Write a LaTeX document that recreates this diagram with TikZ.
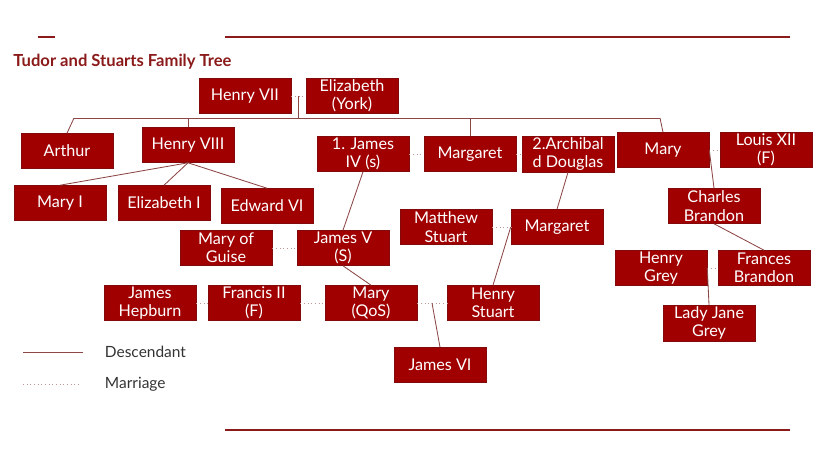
\documentclass[tikz,border=0pt]{standalone}
\usepackage{fontspec}
\setmainfont{Lato}
\usepackage{tikz}
\usetikzlibrary{calc}
\definecolor{TudorRed}{RGB}{160,0,0}
\definecolor{TudorEdge}{RGB}{130,10,10}
\definecolor{TitleRed}{RGB}{139,26,26}
\definecolor{LinkBrown}{RGB}{140,70,70}
\definecolor{WedGrey}{RGB}{190,150,150}
\definecolor{LegendGrey}{RGB}{51,51,51}

\begin{document}
\begin{tikzpicture}[x=0.025cm, y=-0.025cm,
    person/.style={fill=TudorRed, draw=TudorEdge, line width=0.4pt, text=white,
      minimum width=2.3cm, minimum height=0.875cm, inner sep=1pt, align=center,
      font=\fontsize{11.5}{13}\selectfont},
    descent/.style={draw=LinkBrown, line width=0.6pt},
    marriage/.style={draw=WedGrey, line width=0.6pt, dotted},
    rule/.style={draw=TitleRed, line width=1.4pt}]
        \useasboundingbox (0,0) rectangle (828,466);

        % page decoration
        \draw [rule] (38,37) -- (55,37);
        \draw [rule] (225,37) -- (790,37);
        \draw [rule] (225,430) -- (790,430);
        \node [anchor=west, inner sep=0pt, text=TitleRed, font=\fontsize{11.8}{13}\selectfont\bfseries] (title) at (13,62) {Tudor and Stuarts Family Tree};

        % Tudors
        \node [person] (hen7) at (245,96) {Henry VII};
        \node [person] (elizy) at (352,96) {Elizabeth\\(York)};
        \node [person] (arthur) at (67,151) {Arthur};
        \node [person] (hen8) at (188,145) {Henry VIII};
        \node [person] (james4) at (363,154) {1. James\\IV (s)};
        \node [person] (margt) at (470,154) {Margaret};
        \node [person] (archie) at (568,154) {2.Archibal\\d Douglas};
        \node [person] (mary) at (663,150) {Mary};
        \node [person] (louis) at (766,150) {Louis XII\\(F)};
        \node [person] (mary1) at (60,203) {Mary I};
        \node [person] (eliz1) at (164,203) {Elizabeth I};
        \node [person] (edw6) at (267,206) {Edward VI};
        \node [person] (charles) at (714,206) {Charles\\Brandon};

        % Stuarts
        \node [person] (guise) at (226,248) {Mary of\\Guise};
        \node [person] (james5) at (343,248) {James V\\(S)};
        \node [person] (matthew) at (446,227) {Matthew\\Stuart};
        \node [person] (margd) at (557,227) {Margaret};
        \node [person] (hgrey) at (661,268) {Henry\\Grey};
        \node [person] (frances) at (764,268) {Frances\\Brandon};
        \node [person] (hepburn) at (150,303) {James\\Hepburn};
        \node [person] (francis) at (254,303) {Francis II\\(F)};
        \node [person] (maryq) at (371,303) {Mary\\(QoS)};
        \node [person] (hstuart) at (493,303) {Henry\\Stuart};
        \node [person] (ljane) at (709,323) {Lady Jane\\Grey};
        \node [person] (james6) at (440,365) {James VI};

        % marriages
        \draw [marriage] (hen7) -- (elizy);
        \draw [marriage] (james4) -- (margt);
        \draw [marriage] (margt) -- (archie);
        \draw [marriage] (mary) -- (louis);
        \draw [marriage] (guise) -- (james5);
        \draw [marriage] (matthew) -- (margd);
        \draw [marriage] (hgrey) -- (frances);
        \draw [marriage] (hepburn) -- (francis);
        \draw [marriage] (francis) -- (maryq);
        \draw [marriage] (maryq) -- (hstuart);

        % descent
        \coordinate (wed7) at ($(hen7.east)!0.5!(elizy.west)$);
        \coordinate (barL) at (74,118);
        \coordinate (barR) at (660,118);
        \draw [descent] (wed7) -- (wed7 |- barL);
        \draw [descent] (barL) -- (barR);
        \draw [descent] (barL) -- (arthur.north);
        \draw [descent] (hen8.north |- barL) -- (hen8.north);
        \draw [descent] (margt.north |- barL) -- (margt.north);
        \draw [descent] (barR) -- (mary.north);
        \draw [descent] (hen8.south) -- (mary1.north);
        \draw [descent] (hen8.south) -- (eliz1.north);
        \draw [descent] (hen8.south) -- (edw6.north);
        \draw [descent] (james4.south) -- (james5.north);
        \draw [descent] (james5.south) -- (maryq.north);
        \draw [descent] (archie.south) -- (margd.north);
        \draw [descent] (margd.west) -- (hstuart.north);
        \coordinate (wedq) at ($(maryq.east)!0.5!(hstuart.west)$);
        \draw [descent] (wedq) -- (james6.north);
        \draw [descent] (mary.east) -- (charles.north);
        \draw [descent] (charles.south) -- (frances.north);
        \draw [descent] (hgrey.east) -- (ljane.north);

        % legend
        \coordinate (legA) at (23,352);
        \coordinate (legB) at (83,352);
        \coordinate (legC) at (23,384);
        \coordinate (legD) at (80,384);
        \draw [descent] (legA) -- (legB);
        \draw [marriage] (legC) -- (legD);
        \node [anchor=west, text=LegendGrey, font=\fontsize{11}{13}\selectfont] (legdesc) at (100,352) {Descendant};
        \node [anchor=west, text=LegendGrey, font=\fontsize{11}{13}\selectfont] (legwed) at (100,384) {Marriage};
      \end{tikzpicture}
\end{document}
